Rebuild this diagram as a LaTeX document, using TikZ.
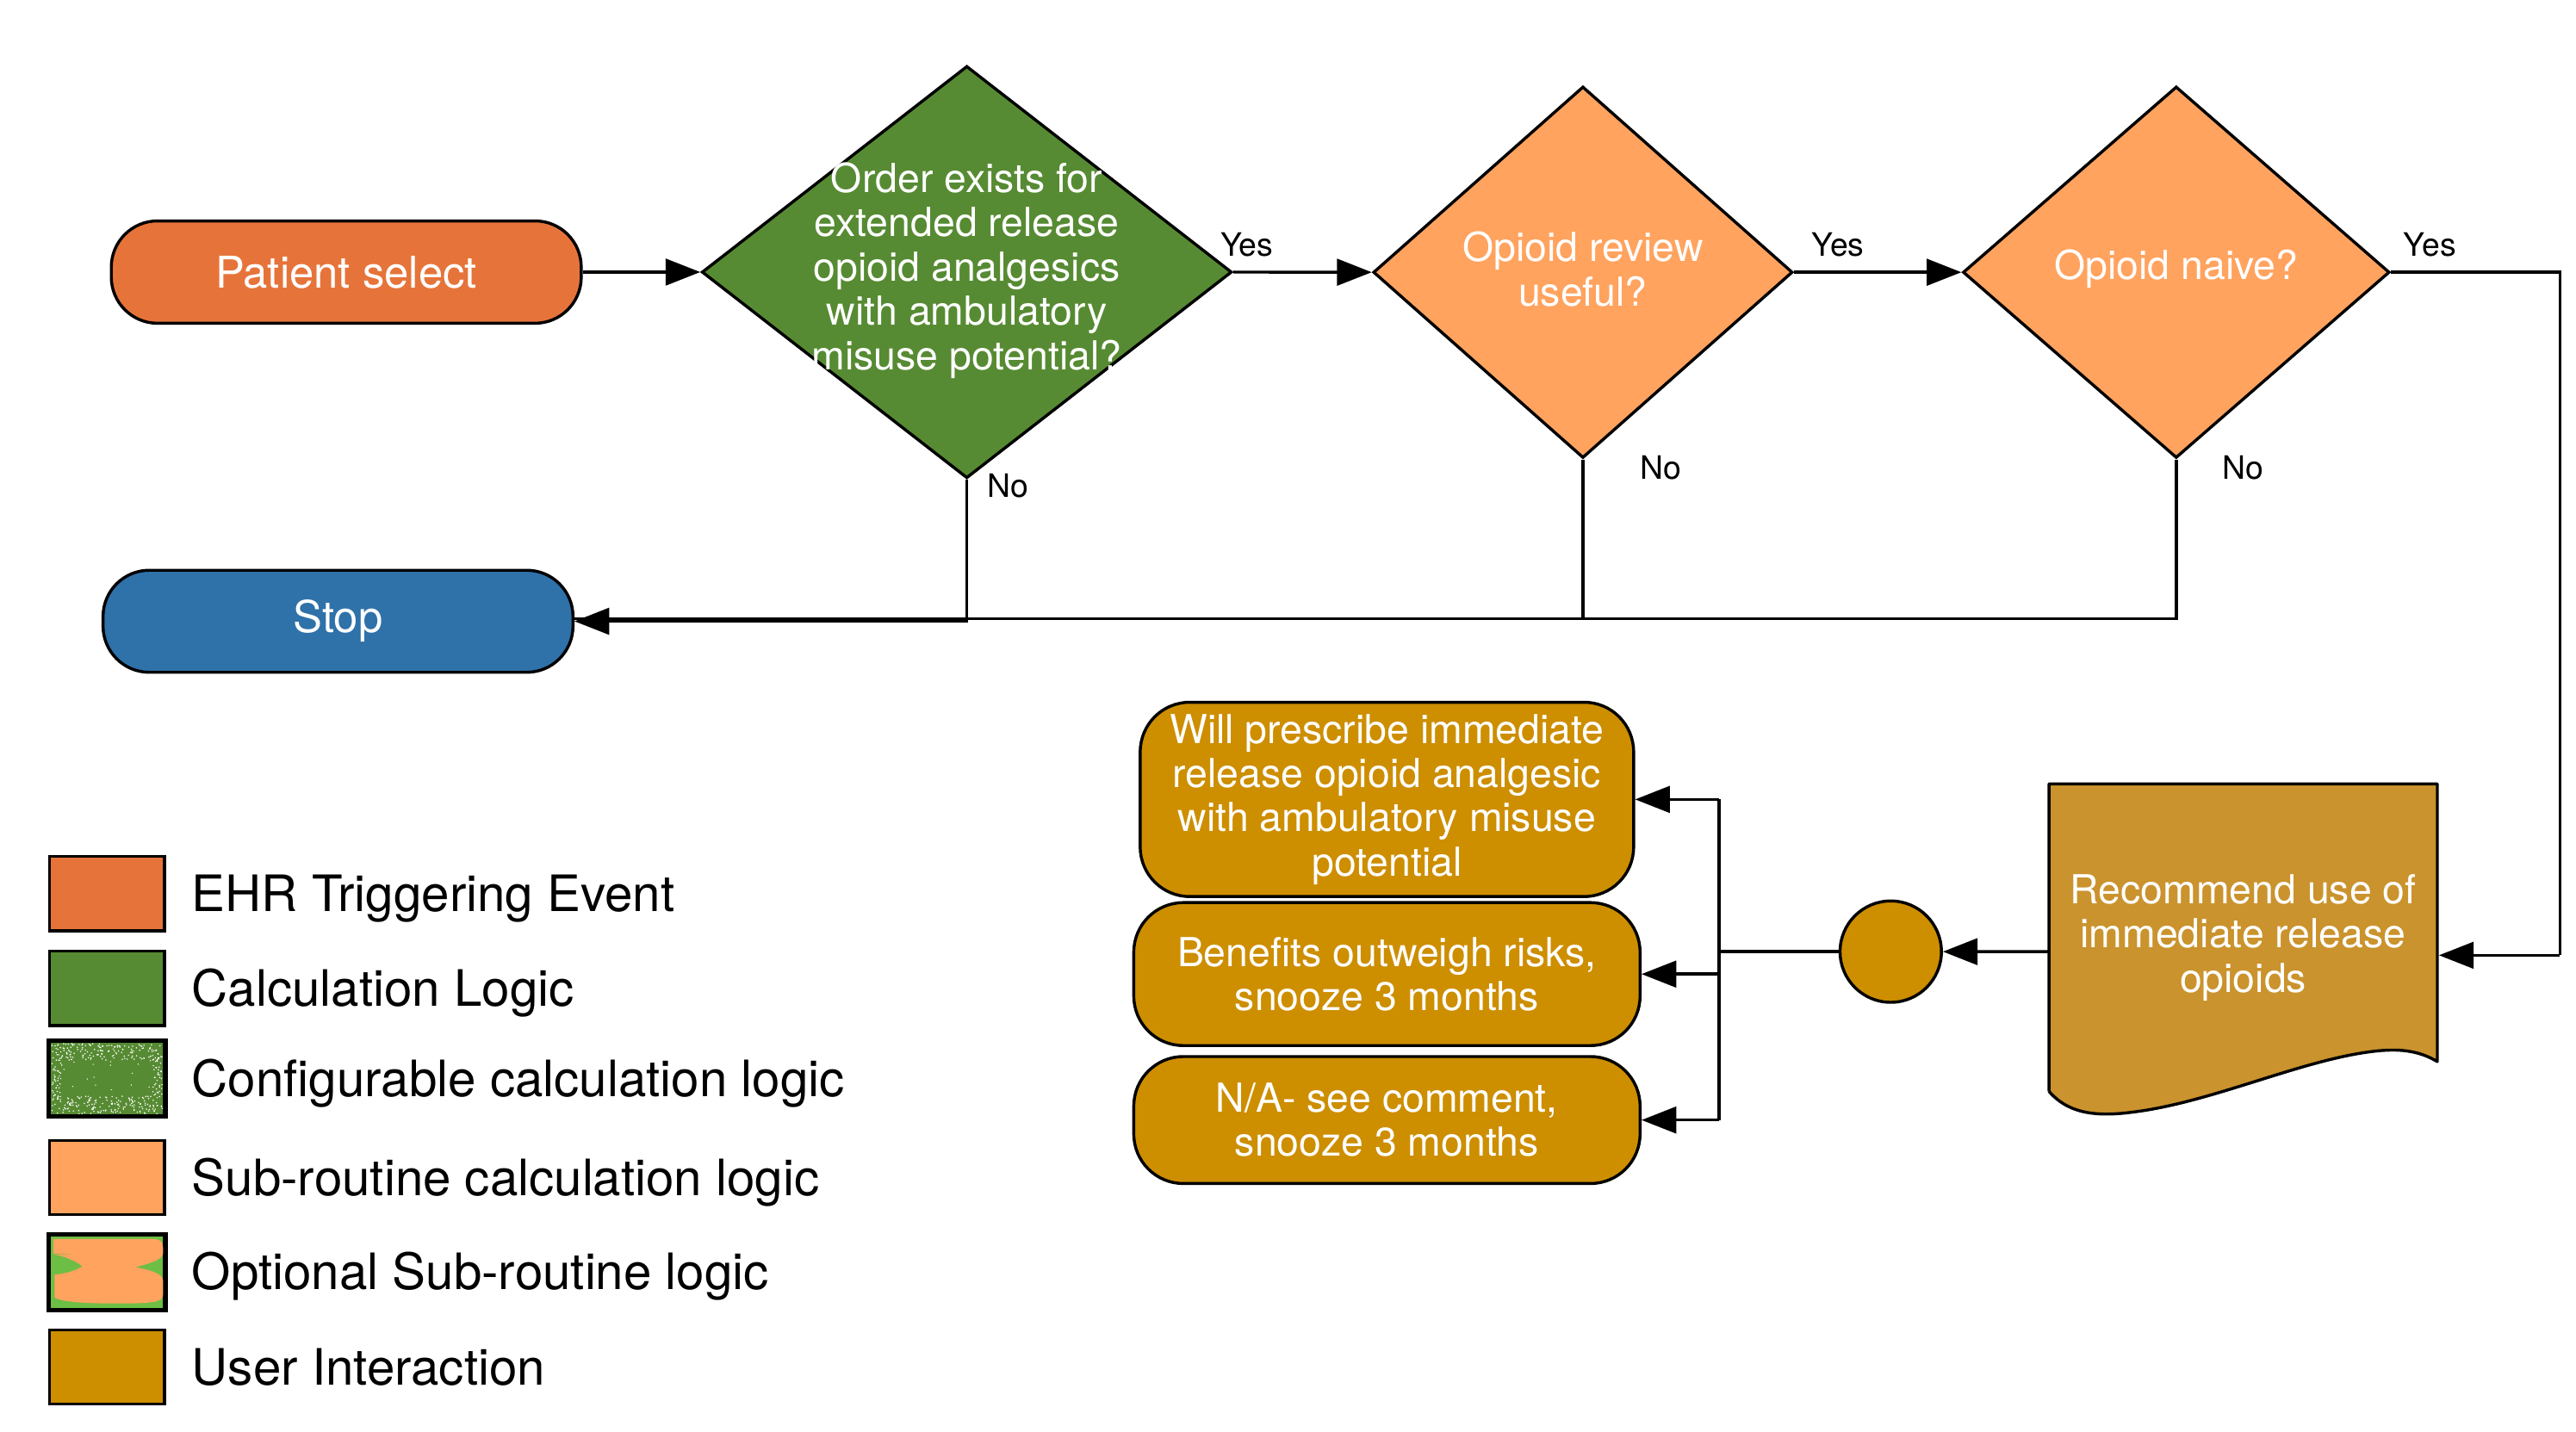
\documentclass[tikz,border=0pt]{standalone}
\usepackage{fontspec}
\setmainfont{TeX Gyre Heros}
\usetikzlibrary{shapes.geometric,arrows.meta,calc}
\definecolor{ehrcol}{HTML}{E6743A}
\definecolor{calccol}{HTML}{578B33}
\definecolor{subcol}{HTML}{FFA35F}
\definecolor{stopcol}{HTML}{2F71A9}
\definecolor{uicol}{HTML}{CD8E00}
\definecolor{doccol}{HTML}{CA932D}
\definecolor{optcol}{HTML}{6DBE45}
\newcommand\nfnt{\fontsize{24.2}{26.8}\selectfont}
\newcommand\pfnt{\fontsize{26.5}{29}\selectfont}
\newcommand\lfnt{\fontsize{30.4}{32}\selectfont}
\newcommand\yfnt{\fontsize{19.5}{22}\selectfont}
\tikzset{
  base/.style={draw=black, line width=1.8pt, text=white, font=\nfnt, align=center, inner sep=0pt},
  pill/.style={base, rounded corners=28pt, font=\pfnt},
  uibox/.style={base, fill=uicol, rounded corners=30pt},
  dec/.style={diamond, draw=black, line width=1.8pt, inner sep=0pt},
  dtext/.style={text=white, font=\nfnt, align=center, inner sep=0pt},
  conn/.style={line width=1.8pt, draw=black},
  arr/.style={conn, -{Triangle[length=21pt,width=16pt]}},
  yn/.style={font=\yfnt, text=black, inner sep=0pt},
  legbox/.style={draw=black, line width=1.8pt},
  legtext/.style={font=\lfnt, anchor=base west, inner sep=0pt}
}
\begin{document}
\begin{tikzpicture}[x=1pt,y=-1pt]
\useasboundingbox[fill=white] (0,0) rectangle (1560,866.9);

% main nodes
\node[pill, fill=ehrcol, minimum width=284.6pt, minimum height=62pt] (ps) at (209.7,164.8) {Patient select};
\node[pill, fill=stopcol, minimum width=284.6pt, minimum height=61.8pt] (stop) at (204.7,376.3) {Stop};

\node[dec, fill=calccol, minimum width=321pt, minimum height=249.7pt,
  label={[dtext, yshift=1pt]center:{Order exists for\\extended release\\opioid analgesics\\with ambulatory\\misuse potential?}}] (d1) at (585.5,164.8) {};
\node[dec, fill=subcol, minimum width=254pt, minimum height=225pt,
  label={[dtext, yshift=2pt]center:{Opioid review\\useful?}}] (d2) at (958.6,164.9) {};
\node[dec, fill=subcol, minimum width=258.4pt, minimum height=225pt,
  label={[dtext, yshift=2pt]center:{Opioid naive?}}] (d3) at (1317.9,164.9) {};

\node[yn] (y1) at (755,148) {Yes};
\node[yn] (y2) at (1113,148) {Yes};
\node[yn] (y3) at (1471.5,148) {Yes};
\node[yn] (n1) at (610.5,294) {No};
\node[yn] (n2) at (1006,283.3) {No};
\node[yn] (n3) at (1358.5,283.3) {No};

% user interaction boxes
\node[uibox, minimum width=298.8pt, minimum height=117.7pt] (b1) at (839.9,484.2) {Will prescribe immediate\\release opioid analgesic\\with ambulatory misuse\\potential};
\node[uibox, minimum width=306.6pt, minimum height=86.6pt] (b2) at (839.9,590) {Benefits outweigh risks,\\snooze 3 months};
\node[uibox, minimum width=306.6pt, minimum height=76.9pt] (b3) at (839.9,678.4) {N/A- see comment,\\snooze 3 months};

\node[circle, draw=black, line width=1.8pt, fill=uicol, minimum size=61.4pt, inner sep=0pt] (circ) at (1145,576.4) {};

% document shape
\fill[doccol] (1240.8,474.8) -- (1476,474.8) -- (1476,643)
  .. controls (1466,637) and (1455,635) .. (1440,636.5)
  .. controls (1395,641) and (1340,668) .. (1290,673.8)
  .. controls (1268,676.5) and (1252,674) .. (1240.8,661) -- cycle;
\draw[line width=1.8pt, line join=round] (1240.8,661) -- (1240.8,474.8) -- (1476,474.8) -- (1476,643)
  .. controls (1466,637) and (1455,635) .. (1440,636.5)
  .. controls (1395,641) and (1340,668) .. (1290,673.8)
  .. controls (1268,676.5) and (1252,674) .. (1240.8,661);
\node[text=white, font=\nfnt, align=center, inner sep=0pt, minimum width=235.2pt, minimum height=186.2pt] (doc) at (1358.4,567.9) {Recommend use of\\immediate release\\opioids};

% coordinates for connector bends
\coordinate (rt) at (1550.2,164.9);
\coordinate (din) at (1477,578.6);
\coordinate (bus) at (1041,576.4);
\coordinate (j3) at (958.6,374.6);

% connectors
\draw[arr] (ps.east) -- (d1.west);
\draw[arr] (d1.east) -- (d2.west);
\draw[arr] (d2.east) -- (d3.west);
\draw[conn] (d3.east) -- (rt) -- (rt |- din);
\draw[arr] (rt |- din) -- (din);
\draw[arr] (d1.south) |- (stop.east);
\draw[conn] (d2.south) -- (j3) -- (j3 -| stop.east);
\draw[conn] (d3.south) |- (j3);
\draw[arr] (din -| doc.west) ++(0,-2.2) -- (circ.east);
\draw[conn] (circ.west) -- (bus);
\draw[conn] (bus |- b1.east) -- (bus |- b3.east);
\draw[arr] (bus |- b1.east) -- (b1.east);
\draw[arr] (bus |- b2.east) -- (b2.east);
\draw[arr] (bus |- b3.east) -- (b3.east);

% legend
\node[legbox, fill=ehrcol, minimum width=69.7pt, minimum height=45pt, inner sep=0pt] (l1) at (64.85,541.2) {};
\node[legbox, fill=calccol, minimum width=69.7pt, minimum height=45pt, inner sep=0pt] (l2) at (64.85,598.7) {};
\node[legbox, fill=calccol, minimum width=69.7pt, minimum height=45pt, inner sep=0pt] (l3) at (64.85,653.4) {};
\node[legbox, fill=subcol, minimum width=69.7pt, minimum height=45pt, inner sep=0pt] (l4) at (64.85,713.3) {};
\node[legbox, fill=optcol, minimum width=69.7pt, minimum height=45pt, inner sep=0pt] (l5) at (64.85,770.5) {};
\node[legbox, fill=uicol, minimum width=69.7pt, minimum height=45pt, inner sep=0pt] (l6) at (64.85,828) {};

% speckles for configurable logic
\pgfmathsetseed{7}
\foreach \i in {1,...,170} { \fill[white] ({31.5+67*rnd},{632+10*rnd}) circle (0.45); }
\foreach \i in {1,...,170} { \fill[white] ({31.5+67*rnd},{664+10.5*rnd}) circle (0.45); }
\foreach \i in {1,...,40} { \fill[white] ({31.5+6*rnd},{640+26*rnd}) circle (0.45); }
\foreach \i in {1,...,40} { \fill[white] ({92.5+6*rnd},{640+26*rnd}) circle (0.45); }
\foreach \i in {1,...,25} { \fill[white] ({31.5+67*rnd},{641+24*rnd}) circle (0.4); }
\draw[legbox] (l3.north west) rectangle (l3.south east);

% orange shape for optional sub-routine
\fill[subcol] (32.3,750.5) -- (92,750.5) .. controls (98.8,750.5) and (98.8,753) .. (98.8,759)
  .. controls (98.8,763) and (90,765.5) .. (82,767.5)
  .. controls (92,769.5) and (98.8,771.5) .. (98.8,776) -- (98.8,784)
  .. controls (98.8,789) and (92,789.5) .. (70,789.5)
  .. controls (50,789.5) and (38,788.5) .. (33,786)
  -- (33,772) .. controls (40,771.5) and (46,769.5) .. (50,767)
  .. controls (46,764) and (40,761) .. (33,760) -- (47,759.5) -- (32.3,759.5) -- cycle;
\draw[legbox] (l5.north west) rectangle (l5.south east);

\node[legtext] (t1) at (116,551.9) {EHR Triggering Event};
\node[legtext] (t2) at (116,609.4) {Calculation Logic};
\node[legtext] (t3) at (116,664.1) {Configurable calculation logic};
\node[legtext] (t4) at (116,724.0) {Sub-routine calculation logic};
\node[legtext] (t5) at (116,781.2) {Optional Sub-routine logic};
\node[legtext] (t6) at (116,838.7) {User Interaction};
\end{tikzpicture}
\end{document}
